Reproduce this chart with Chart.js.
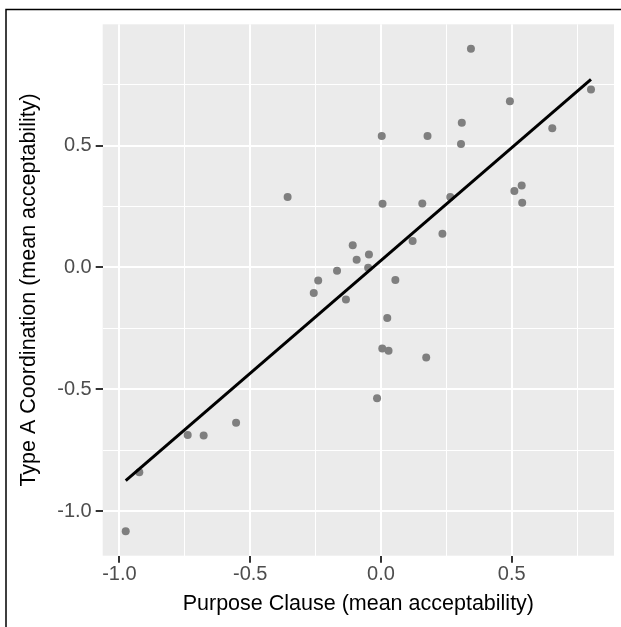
<!DOCTYPE html>
<html lang="en">
<head>
    <meta charset="UTF-8">
    <title>Purpose Clause vs Type A Coordination</title>
    <script src="https://cdn.jsdelivr.net/npm/chart.js"></script>
    <style>
        html, body { margin: 0; padding: 0; background: #ffffff; }
        canvas { display: block; }
    </style>
</head>
<body>
    <canvas id="chart" width="621" height="627"></canvas>

    <script>
        // mean acceptability per item
        const purposeClause = [-0.976, -0.924, -0.739, -0.678, -0.554, -0.357, -0.257, -0.240, -0.168,
            -0.134, -0.108, -0.093, -0.049, -0.046, -0.015, 0.003, 0.005, 0.006, 0.024, 0.029, 0.055,
            0.121, 0.158, 0.173, 0.178, 0.235, 0.265, 0.306, 0.309, 0.344, 0.493, 0.510, 0.538, 0.540,
            0.655, 0.803];
        const typeACoordination = [-1.083, -0.841, -0.688, -0.690, -0.637, 0.289, -0.105, -0.053, -0.014,
            -0.132, 0.091, 0.032, -0.001, 0.053, -0.537, 0.540, -0.333, 0.262, -0.207, -0.342, -0.051,
            0.109, 0.263, -0.370, 0.540, 0.138, 0.289, 0.507, 0.594, 0.898, 0.682, 0.314, 0.336, 0.266,
            0.571, 0.730];

        // ends of the fitted line
        const fitX = [-0.976, 0.803];
        const fitY = [-0.875, 0.772];

        const majorTicks = [-1.0, -0.5, 0.0, 0.5];
        const minorTicks = [-0.75, -0.25, 0.25, 0.75];

        const points = purposeClause.map((x, i) => ({ x: x, y: typeACoordination[i] }));
        const fitLine = fitX.map((x, i) => ({ x: x, y: fitY[i] }));

        const isMajor = v => majorTicks.some(m => Math.abs(m - v) < 1e-9);

        function setTicks(scale) {
            scale.ticks = majorTicks.concat(minorTicks)
                .filter(v => v >= scale.min && v <= scale.max)
                .sort((a, b) => a - b)
                .map(v => ({ value: v }));
        }

        const gridOpts = {
            color: '#ffffff',
            lineWidth: ctx => (ctx.tick && isMajor(ctx.tick.value)) ? 2 : 1,
            tickColor: ctx => (ctx.tick && isMajor(ctx.tick.value)) ? '#333333' : 'rgba(0,0,0,0)',
            tickWidth: 2,
            tickLength: 7,
            drawTicks: true
        };

        const tickFont = { family: 'Liberation Sans', size: 20 };
        const titleFont = { family: 'Liberation Sans', size: 21.5 };

        const panel = {
            id: 'panel',
            beforeDraw(chart) {
                const { ctx, chartArea: a } = chart;
                ctx.save();
                ctx.fillStyle = '#EBEBEB';
                ctx.fillRect(a.left, a.top, a.right - a.left, a.bottom - a.top);
                ctx.restore();
            },
            afterDraw(chart) {
                const ctx = chart.ctx;
                ctx.save();
                ctx.strokeStyle = '#000000';
                ctx.lineWidth = 1.5;
                ctx.beginPath();
                ctx.moveTo(6, 627);
                ctx.lineTo(6, 9.5);
                ctx.lineTo(621, 9.5);
                ctx.stroke();
                ctx.restore();
            }
        };

        new Chart(document.getElementById('chart').getContext('2d'), {
            type: 'scatter',
            data: {
                datasets: [
                    {
                        type: 'line',
                        data: fitLine,
                        borderColor: '#000000',
                        borderWidth: 3,
                        pointRadius: 0,
                        fill: false,
                        order: 0
                    },
                    {
                        data: points,
                        backgroundColor: '#7F7F7F',
                        borderWidth: 0,
                        pointRadius: 4,
                        order: 1
                    }
                ]
            },
            options: {
                responsive: false,
                animation: false,
                layout: { padding: { top: 24.3, right: 7, left: 0, bottom: 0 } },
                plugins: { legend: { display: false }, tooltip: { enabled: false } },
                scales: {
                    x: {
                        type: 'linear',
                        min: -1.064,
                        max: 0.891,
                        afterBuildTicks: setTicks,
                        afterFit: s => { s.height = 71.3; },
                        border: { display: false },
                        grid: gridOpts,
                        ticks: {
                            autoSkip: false,
                            maxRotation: 0,
                            padding: 0,
                            color: '#4D4D4D',
                            font: tickFont,
                            callback: v => isMajor(v) ? v.toFixed(1) : ''
                        },
                        title: {
                            display: true,
                            text: 'Purpose Clause (mean acceptability)',
                            color: '#000000',
                            font: titleFont,
                            padding: { top: 0, bottom: 9.6 }
                        }
                    },
                    y: {
                        type: 'linear',
                        min: -1.183,
                        max: 0.998,
                        afterBuildTicks: setTicks,
                        afterFit: s => { s.width = 102.7; },
                        border: { display: false },
                        grid: gridOpts,
                        ticks: {
                            autoSkip: false,
                            padding: 4,
                            color: '#4D4D4D',
                            font: tickFont,
                            callback: v => isMajor(v) ? v.toFixed(1) : ''
                        },
                        title: {
                            display: true,
                            text: 'Type A Coordination (mean acceptability)',
                            color: '#000000',
                            font: titleFont,
                            padding: { top: 16.6, bottom: 0 }
                        }
                    }
                }
            },
            plugins: [panel]
        });
    </script>
</body>
</html>
